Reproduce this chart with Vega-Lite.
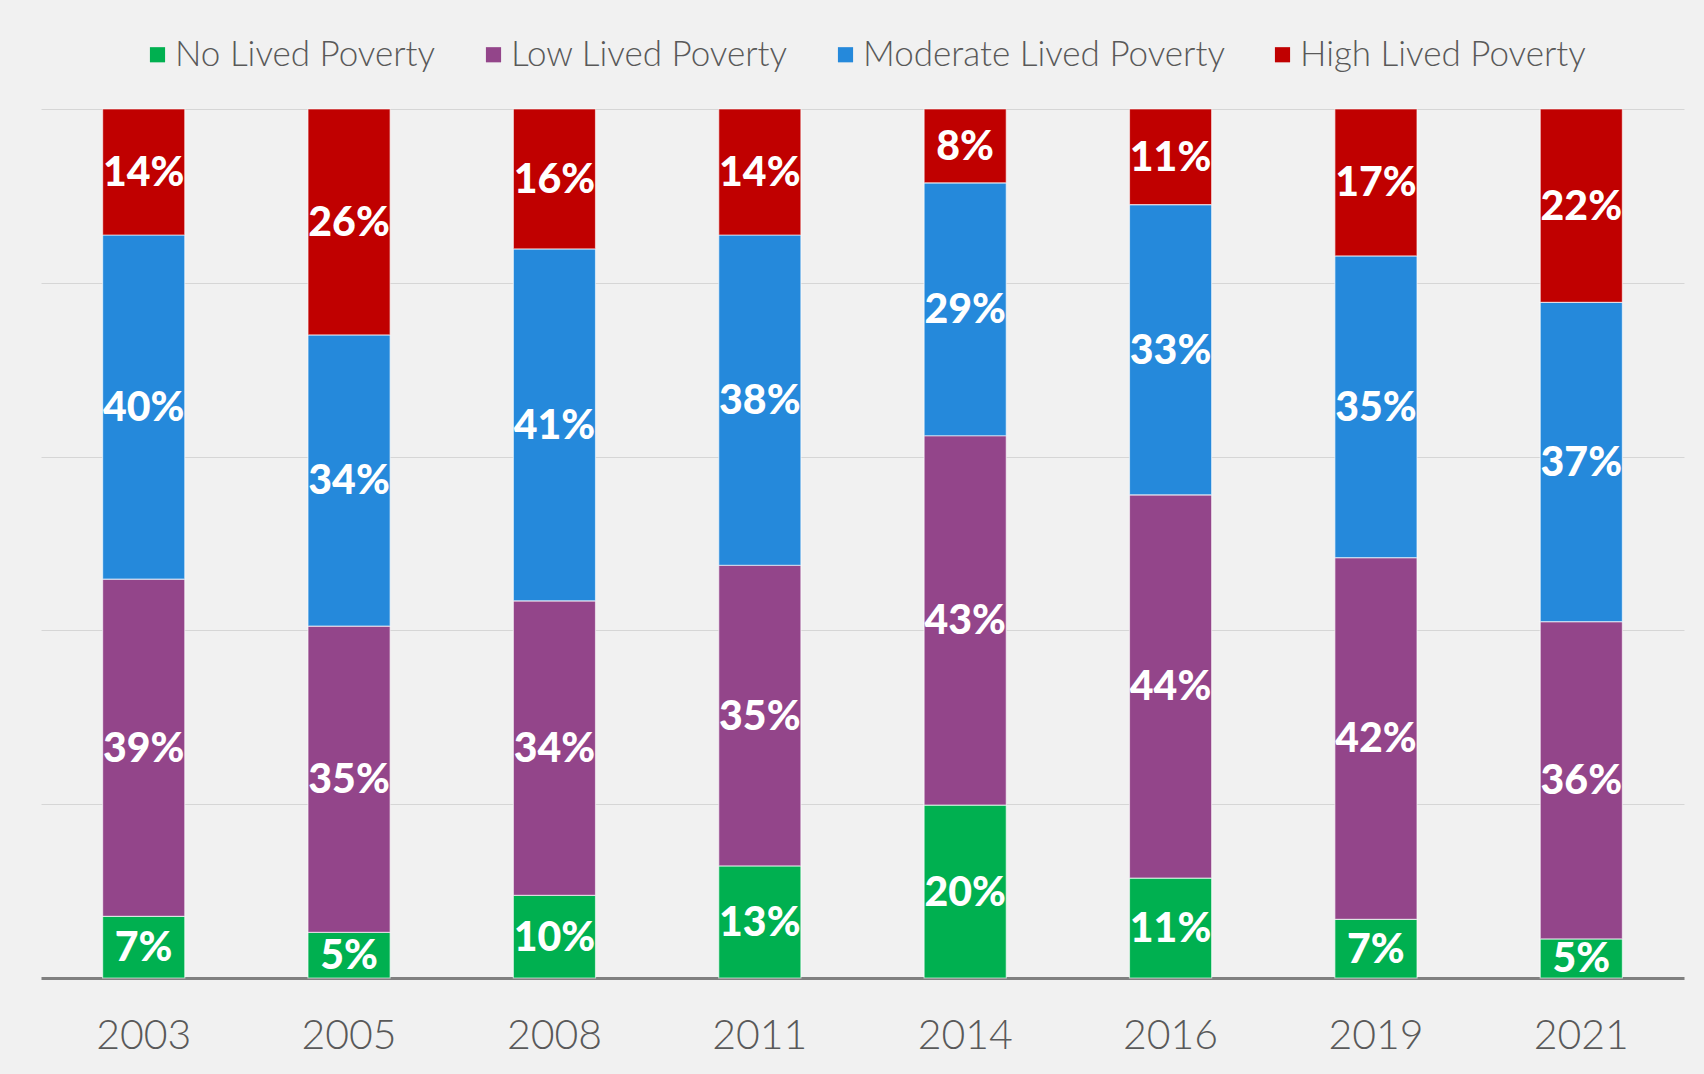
{
  "$schema": "https://vega.github.io/schema/vega-lite/v6.json",
  "width": 1643,
  "height": 869,
  "autosize": {"type": "none"},
  "padding": {"left": 41, "top": 109, "right": 20, "bottom": 96},
  "background": "#f1f1f1",
  "config": {
    "view": {"stroke": null},
    "font": "Lato"
  },
  "data": {
    "values": [
      {"year": "2003", "cat": "No Lived Poverty", "k": 1, "value": 7.1, "label": "7%"},
      {"year": "2003", "cat": "Low Lived Poverty", "k": 2, "value": 38.8, "label": "39%"},
      {"year": "2003", "cat": "Moderate Lived Poverty", "k": 3, "value": 39.6, "label": "40%"},
      {"year": "2003", "cat": "High Lived Poverty", "k": 4, "value": 14.5, "label": "14%"},
      {"year": "2005", "cat": "No Lived Poverty", "k": 1, "value": 5.25, "label": "5%"},
      {"year": "2005", "cat": "Low Lived Poverty", "k": 2, "value": 35.25, "label": "35%"},
      {"year": "2005", "cat": "Moderate Lived Poverty", "k": 3, "value": 33.5, "label": "34%"},
      {"year": "2005", "cat": "High Lived Poverty", "k": 4, "value": 26, "label": "26%"},
      {"year": "2008", "cat": "No Lived Poverty", "k": 1, "value": 9.5, "label": "10%"},
      {"year": "2008", "cat": "Low Lived Poverty", "k": 2, "value": 33.9, "label": "34%"},
      {"year": "2008", "cat": "Moderate Lived Poverty", "k": 3, "value": 40.5, "label": "41%"},
      {"year": "2008", "cat": "High Lived Poverty", "k": 4, "value": 16.1, "label": "16%"},
      {"year": "2011", "cat": "No Lived Poverty", "k": 1, "value": 12.9, "label": "13%"},
      {"year": "2011", "cat": "Low Lived Poverty", "k": 2, "value": 34.6, "label": "35%"},
      {"year": "2011", "cat": "Moderate Lived Poverty", "k": 3, "value": 38, "label": "38%"},
      {"year": "2011", "cat": "High Lived Poverty", "k": 4, "value": 14.5, "label": "14%"},
      {"year": "2014", "cat": "No Lived Poverty", "k": 1, "value": 19.9, "label": "20%"},
      {"year": "2014", "cat": "Low Lived Poverty", "k": 2, "value": 42.5, "label": "43%"},
      {"year": "2014", "cat": "Moderate Lived Poverty", "k": 3, "value": 29.1, "label": "29%"},
      {"year": "2014", "cat": "High Lived Poverty", "k": 4, "value": 8.5, "label": "8%"},
      {"year": "2016", "cat": "No Lived Poverty", "k": 1, "value": 11.5, "label": "11%"},
      {"year": "2016", "cat": "Low Lived Poverty", "k": 2, "value": 44.1, "label": "44%"},
      {"year": "2016", "cat": "Moderate Lived Poverty", "k": 3, "value": 33.4, "label": "33%"},
      {"year": "2016", "cat": "High Lived Poverty", "k": 4, "value": 11, "label": "11%"},
      {"year": "2019", "cat": "No Lived Poverty", "k": 1, "value": 6.75, "label": "7%"},
      {"year": "2019", "cat": "Low Lived Poverty", "k": 2, "value": 41.6, "label": "42%"},
      {"year": "2019", "cat": "Moderate Lived Poverty", "k": 3, "value": 34.7, "label": "35%"},
      {"year": "2019", "cat": "High Lived Poverty", "k": 4, "value": 16.9, "label": "17%"},
      {"year": "2021", "cat": "No Lived Poverty", "k": 1, "value": 4.5, "label": "5%"},
      {"year": "2021", "cat": "Low Lived Poverty", "k": 2, "value": 36.5, "label": "36%"},
      {"year": "2021", "cat": "Moderate Lived Poverty", "k": 3, "value": 36.75, "label": "37%"},
      {"year": "2021", "cat": "High Lived Poverty", "k": 4, "value": 22.25, "label": "22%"}
    ]
  },
  "transform": [
    {"stack": "value", "groupby": ["year"], "sort": [{"field": "k", "order": "ascending"}], "as": ["y0", "y1"], "offset": "normalize"},
    {"calculate": "(datum.y0 + datum.y1) / 2", "as": "mid"}
  ],
  "encoding": {
    "x": {
      "field": "year",
      "type": "nominal",
      "scale": {"paddingInner": 0.6, "paddingOuter": 0.3},
      "axis": {
        "title": null,
        "labelAngle": 0,
        "labelFontSize": 41,
        "labelFontWeight": 300,
        "labelColor": "#595959",
        "labelPadding": 38,
        "ticks": false,
        "domainColor": "#808080",
        "domainWidth": 3,
        "grid": false
      }
    }
  },
  "layer": [
    {
      "mark": {"type": "bar", "stroke": "#ffffff", "strokeWidth": 1.2, "strokeOpacity": 0.6},
      "encoding": {
        "y": {
          "field": "y0",
          "type": "quantitative",
          "scale": {"domain": [0, 1], "nice": false},
          "axis": {
            "title": null,
            "labels": false,
            "ticks": false,
            "domain": false,
            "values": [0.2, 0.4, 0.6, 0.8, 1.0],
            "gridColor": "#d6d6d6",
            "gridWidth": 1
          }
        },
        "y2": {"field": "y1"},
        "color": {
          "field": "cat",
          "type": "nominal",
          "scale": {
            "domain": ["No Lived Poverty", "Low Lived Poverty", "Moderate Lived Poverty", "High Lived Poverty"],
            "range": ["#00b050", "#93458a", "#2589db", "#c00000"]
          },
          "legend": {
            "title": null,
            "orient": "none",
            "direction": "horizontal",
            "legendX": 99,
            "legendY": -72,
            "symbolType": "square",
            "symbolSize": 230,
            "symbolStrokeWidth": 0,
            "labelFontSize": 35,
            "labelFontWeight": 300,
            "labelColor": "#595959",
            "labelOffset": 0,
            "columnPadding": 40,
            "labelLimit": 600
          }
        }
      }
    },
    {
      "mark": {"type": "text", "color": "#ffffff", "fontSize": 41, "fontWeight": 900, "baseline": "middle", "align": "center", "dy": 2},
      "encoding": {
        "y": {"field": "mid", "type": "quantitative"},
        "text": {"field": "label"}
      }
    }
  ]
}
